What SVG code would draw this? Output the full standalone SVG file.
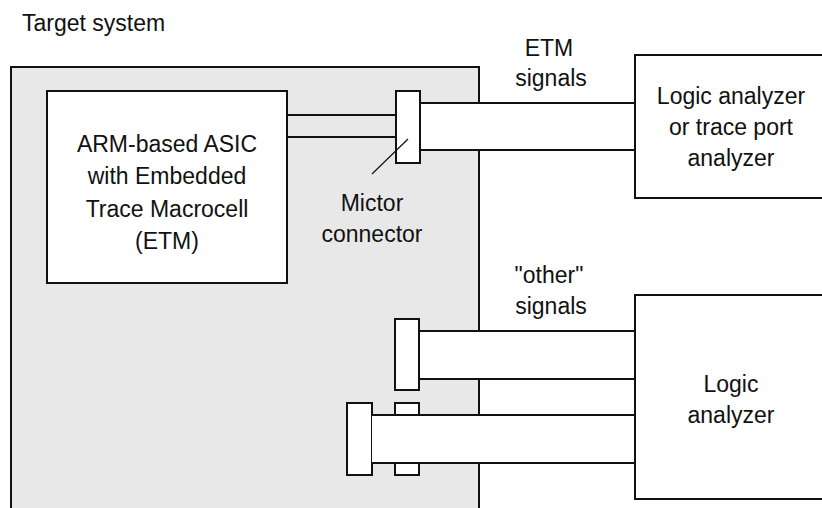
<svg xmlns="http://www.w3.org/2000/svg" width="822" height="508" viewBox="0 0 822 508">
<style>
text{font-family:"Liberation Sans",Arial,sans-serif;font-size:23px;fill:#111;text-anchor:middle}
.box{fill:#fff;stroke:#111;stroke-width:2}
.ln{stroke:#111;stroke-width:2;fill:none}
.band{fill:#fff;stroke:none}
</style>
<rect width="822" height="508" fill="#fff"/>
<g id="target">
<rect x="11" y="67" width="468" height="460" fill="#e8e8e8" stroke="#111" stroke-width="2"/>
<text x="22" y="31" style="text-anchor:start">Target system</text>
</g>
<g id="asic">
<rect class="box" x="47" y="91" width="240" height="192"/>
<text x="167" y="151.5">ARM-based ASIC</text>
<text x="167" y="184">with Embedded</text>
<text x="167" y="216.5">Trace Macrocell</text>
<text x="167" y="249">(ETM)</text>
</g>
<g id="connectors">
<line class="ln" x1="287" y1="115" x2="396" y2="115"/>
<line class="ln" x1="287" y1="137" x2="396" y2="137"/>
<rect class="band" x="420" y="103" width="215" height="47"/>
<line class="ln" x1="420" y1="103" x2="635" y2="103"/>
<line class="ln" x1="420" y1="150" x2="635" y2="150"/>
<rect class="band" x="419" y="331" width="216" height="48"/>
<line class="ln" x1="419" y1="331" x2="635" y2="331"/>
<line class="ln" x1="419" y1="379" x2="635" y2="379"/>
</g>
<g id="mictor">
<rect class="box" x="396" y="91" width="24" height="72"/>
<line stroke="#111" stroke-width="1.2" x1="372" y1="174" x2="408" y2="139"/>
<text x="372" y="211">Mictor</text>
<text x="372" y="242">connector</text>
</g>
<g id="other-connector-a">
<rect class="box" x="395" y="319" width="24" height="71"/>
</g>
<g id="other-connector-b">
<rect class="box" x="395" y="403" width="24" height="72"/>
<rect class="box" x="347" y="403" width="25" height="72"/>
<rect class="band" x="372" y="415" width="263" height="48"/>
<line class="ln" x1="372" y1="415" x2="635" y2="415"/>
<line class="ln" x1="372" y1="463" x2="635" y2="463"/>
</g>
<g id="etm-label">
<text x="549" y="56">ETM</text>
<text x="551" y="86">signals</text>
</g>
<g id="other-label">
<text x="549" y="283">"other"</text>
<text x="551" y="314">signals</text>
</g>
<g id="trace-analyzer">
<rect class="box" x="635" y="55" width="200" height="143"/>
<text x="731" y="104">Logic analyzer</text>
<text x="731" y="135">or trace port</text>
<text x="731" y="166">analyzer</text>
</g>
<g id="logic-analyzer">
<rect class="box" x="635" y="295" width="200" height="204"/>
<text x="731" y="392">Logic</text>
<text x="731" y="423">analyzer</text>
</g>
</svg>
